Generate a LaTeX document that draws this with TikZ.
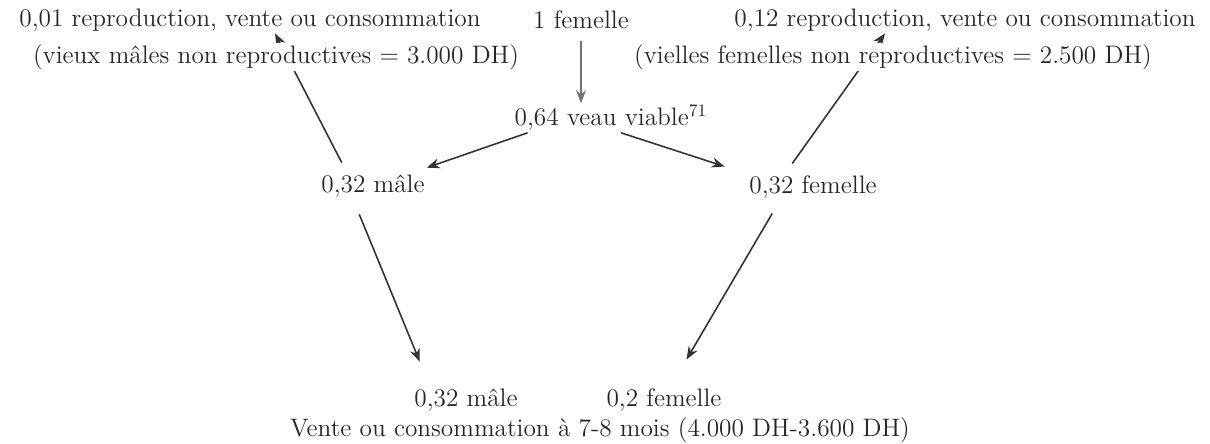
\documentclass[tikz,border=0pt]{standalone}
\usepackage{fontspec}
\usetikzlibrary{arrows.meta}
\tikzset{
  lbl/.style={inner sep=1pt, text=black!85, font=\Large},
  arr/.style={-{Stealth[length=2.6mm,width=2mm]}, line width=0.9pt, draw=black!80},
}
\begin{document}
\begin{tikzpicture}[x=0.02cm, y=-0.02cm]
    \useasboundingbox (0,0) rectangle (1210,443);

    % top row
    \node[lbl] (tl) at (250,20) {0,01 reproduction, vente ou consommation};
    \node[lbl] (fem) at (581,20) {1 femelle};
    \node[lbl] (tr) at (965,20) {0,12 reproduction, vente ou consommation};

    \node[lbl] (veau) at (611,118) {0,64 veau viable$^{71}$};
    \node[lbl] (m1) at (373,186) {0,32 mâle};
    \node[lbl] (f1) at (813,187) {0,32 femelle};

    \node[lbl] (m2) at (466,400) {0,32 mâle};
    \node[lbl] (f2) at (664,400) {0,2 femelle};
    \node[lbl] (vente) at (600,430) {Vente ou consommation à 7-8 mois (4.000 DH-3.600 DH)};

    \draw[arr, draw=black!55, shorten <=2mm] (fem.south) -- (fem.south |- veau.north);
    \draw[arr] ([xshift=3mm]veau.south west) -- ([yshift=1mm]m1.north east);
    \draw[arr] ([xshift=2mm]veau.south) -- ([xshift=-4.5mm,yshift=1.4mm]f1.north west);

    \draw[arr] ([xshift=4.5mm,yshift=2mm]m1.north west) -- ([xshift=5mm]tl.south);
    \draw[arr] ([xshift=9mm,yshift=2mm]f1.north west) -- ([xshift=-16mm]tr.south);

    \draw[arr] ([xshift=8mm,yshift=-3mm]m1.south west) -- ([xshift=1.5mm,yshift=5mm]m2.north west);
    \draw[arr] ([xshift=5mm,yshift=-2.6mm]f1.south west) -- ([xshift=4.5mm,yshift=5.4mm]f2.north);

    % second line, over the arrows
    \node[lbl, fill=white] (pl) at (276,57) {(vieux mâles non reproductives = 3.000 DH)};
    \node[lbl, fill=white] (pr) at (893,57) {(vielles femelles non reproductives = 2.500 DH)};
\end{tikzpicture}
\end{document}
